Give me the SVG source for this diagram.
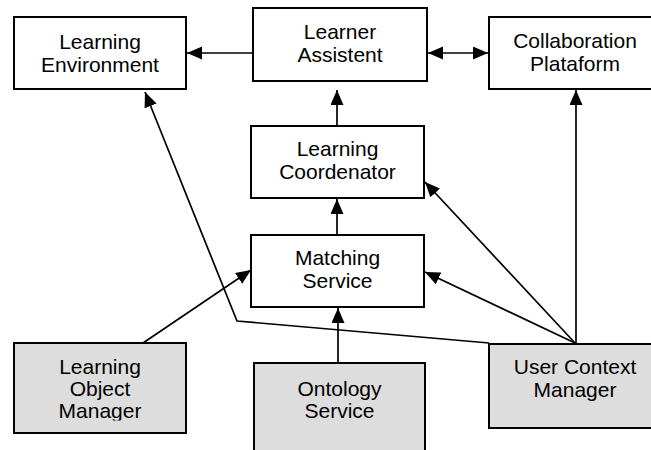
<svg xmlns="http://www.w3.org/2000/svg" width="651" height="450" viewBox="0 0 651 450">
<defs>
<style>
.box{fill:#ffffff;stroke:#000;stroke-width:2}
.gray{fill:#dddddd;stroke:#000;stroke-width:2}
.lbl{font-family:"Liberation Sans",Arial,sans-serif;font-size:21px;text-anchor:middle;fill:#000}
.con{fill:none;stroke:#000;stroke-width:1.7}
</style>
<marker id="ah" markerUnits="userSpaceOnUse" markerWidth="16" markerHeight="14" refX="15" refY="6.5" orient="auto-start-reverse">
<path d="M0,0 L15,6.5 L0,13 z" fill="#000"/>
</marker>
<clipPath id="lomclip"><rect x="14" y="343" width="172" height="77.5"/></clipPath>
</defs>
<rect width="651" height="450" fill="#ffffff"/>
<g id="connectors">
<path class="con" d="M253,53 L187,53" marker-end="url(#ah)"/>
<path class="con" d="M428,53 L488,53" marker-start="url(#ah)" marker-end="url(#ah)"/>
<path class="con" d="M337,126 L337,90" marker-end="url(#ah)"/>
<path class="con" d="M337,235 L337,199" marker-end="url(#ah)"/>
<path class="con" d="M338,363 L338,308" marker-end="url(#ah)"/>
<path class="con" d="M143,343 L251,270" marker-end="url(#ah)"/>
<path class="con" d="M575,343 L425,182" marker-end="url(#ah)"/>
<path class="con" d="M575,343 L425,272" marker-end="url(#ah)"/>
<path class="con" d="M576,344 L576,90" marker-end="url(#ah)"/>
<path class="con" d="M489,343 L237,321 L145,92" marker-end="url(#ah)"/>
</g>
<g id="learning-environment">
<rect class="box" x="14" y="17" width="172" height="72"/>
<text class="lbl" x="100" y="49">Learning</text>
<text class="lbl" x="100" y="72">Environment</text>
</g>
<g id="learner-assistent">
<rect class="box" x="253" y="8" width="174" height="73"/>
<text class="lbl" x="340" y="39">Learner</text>
<text class="lbl" x="340" y="62">Assistent</text>
</g>
<g id="collaboration-plataform">
<rect class="box" x="489" y="17" width="172" height="72"/>
<text class="lbl" x="575" y="48">Collaboration</text>
<text class="lbl" x="575" y="71">Plataform</text>
</g>
<g id="learning-coordenator">
<rect class="box" x="251" y="126" width="173" height="72"/>
<text class="lbl" x="337.5" y="156">Learning</text>
<text class="lbl" x="337.5" y="179">Coordenator</text>
</g>
<g id="matching-service">
<rect class="box" x="251" y="235" width="173" height="72"/>
<text class="lbl" x="337.5" y="265">Matching</text>
<text class="lbl" x="337.5" y="288">Service</text>
</g>
<g id="learning-object-manager">
<rect class="gray" x="14" y="343" width="172" height="90"/>
<g clip-path="url(#lomclip)">
<text class="lbl" x="100" y="374">Learning</text>
<text class="lbl" x="100" y="396">Object</text>
<text class="lbl" x="100" y="418">Manager</text>
</g>
</g>
<g id="ontology-service">
<rect class="gray" x="254" y="363" width="171" height="100"/>
<text class="lbl" x="339.5" y="396">Ontology</text>
<text class="lbl" x="339.5" y="418">Service</text>
</g>
<g id="user-context-manager">
<rect class="gray" x="489" y="344" width="172" height="84"/>
<text class="lbl" x="575" y="374">User Context</text>
<text class="lbl" x="575" y="397">Manager</text>
</g>
</svg>
